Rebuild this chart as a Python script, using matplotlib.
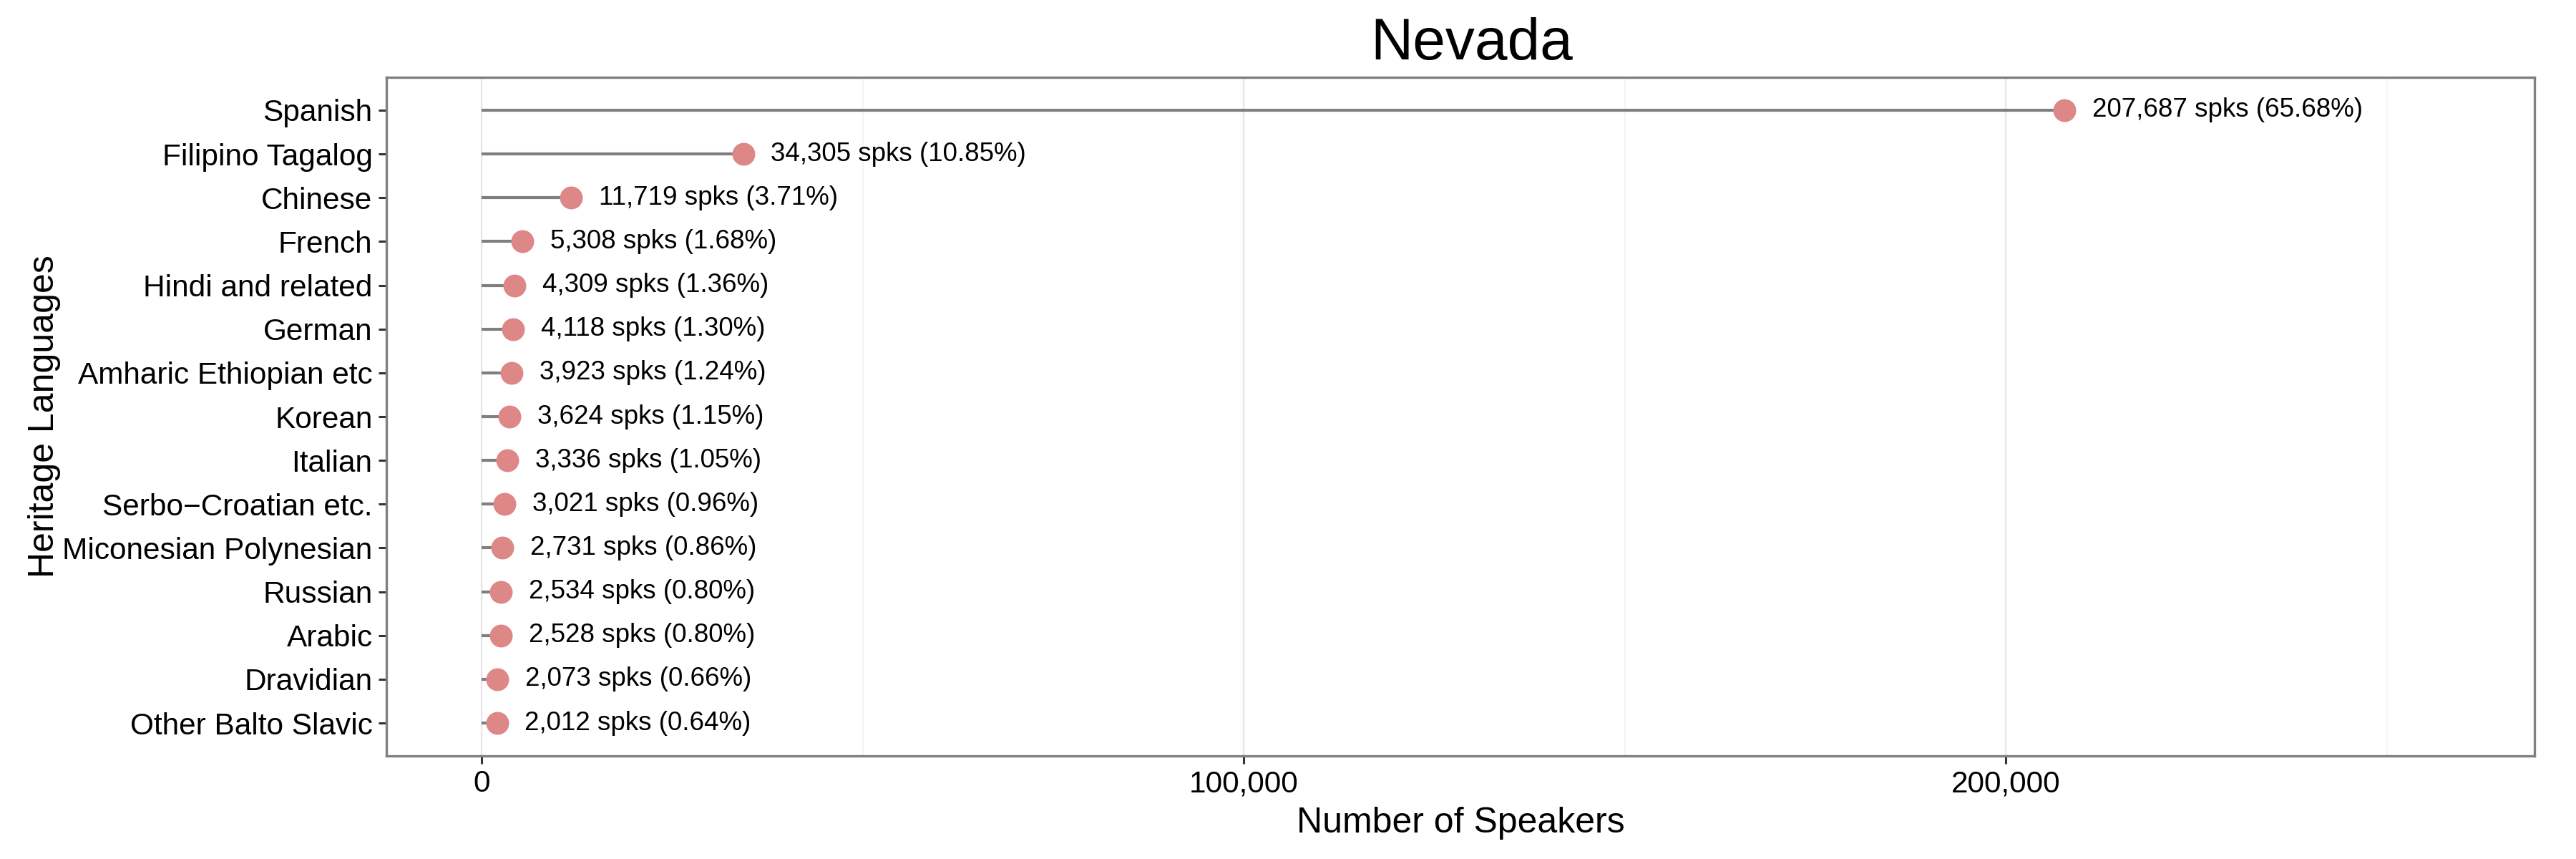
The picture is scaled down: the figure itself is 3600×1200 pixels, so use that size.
import numpy as np
import matplotlib.pyplot as plt
from matplotlib.ticker import FuncFormatter, MultipleLocator

plt.rcParams['font.family'] = ['Liberation Sans', 'DejaVu Sans']

lingue = ["Spanish", "Filipino Tagalog", "Chinese", "French", "Hindi and related",
          "German", "Amharic Ethiopian etc", "Korean", "Italian", "Serbo\u2212Croatian etc.",
          "Miconesian Polynesian", "Russian", "Arabic", "Dravidian", "Other Balto Slavic"]
parlanti = [207687, 34305, 11719, 5308, 4309, 4118, 3923, 3624, 3336, 3021,
            2731, 2534, 2528, 2073, 2012]
percentuali = [65.68, 10.85, 3.71, 1.68, 1.36, 1.30, 1.24, 1.15, 1.05, 0.96,
               0.86, 0.80, 0.80, 0.66, 0.64]

fig = plt.figure(figsize=(36, 12), dpi=100)
ax = fig.add_axes([0.150, 0.120, 0.834, 0.790])

y = np.arange(len(lingue))[::-1]

# griglia
ax.xaxis.set_major_locator(MultipleLocator(100000))
ax.xaxis.set_minor_locator(MultipleLocator(50000))
ax.grid(which='major', axis='x', color='#E5E5E5', linewidth=1.6, zorder=0)
ax.grid(which='minor', axis='x', color='#F2F2F2', linewidth=1.2, zorder=0)
ax.grid(axis='y', visible=False)

ax.hlines(y, 0, parlanti, color='#7F7F7F', linewidth=3.0, zorder=2)
ax.plot(parlanti, y, 'o', color='#DE8787', markersize=23, markeredgewidth=0, zorder=3)

for v, p, yy in zip(parlanti, percentuali, y):
    ax.annotate(f"{v:,} spks ({p:.2f}%)", xy=(v, yy), xytext=(28, 0),
                textcoords='offset points', va='center', ha='left', fontsize=26.5)

ax.set_xlim(-12500, 269400)
ax.set_ylim(-0.75, len(lingue) - 0.25)
ax.set_yticks(y)
ax.set_yticklabels(lingue)
ax.xaxis.set_major_formatter(FuncFormatter(lambda v, pos: f"{int(v):,}"))

ax.tick_params(axis='both', which='major', labelsize=30.5, length=8, width=2.2,
               color='#333333', labelcolor='black', pad=6)
ax.tick_params(axis='x', which='minor', length=0)

for s in ax.spines.values():
    s.set_color('#7F7F7F')
    s.set_linewidth(2.4)

ax.set_xlabel("Number of Speakers", fontsize=36, labelpad=8)
ax.set_ylabel("Heritage Languages", fontsize=36, labelpad=2)
ax.set_title("Nevada", fontsize=59, pad=18, x=0.505)

fig.savefig("out.png", dpi=100)
